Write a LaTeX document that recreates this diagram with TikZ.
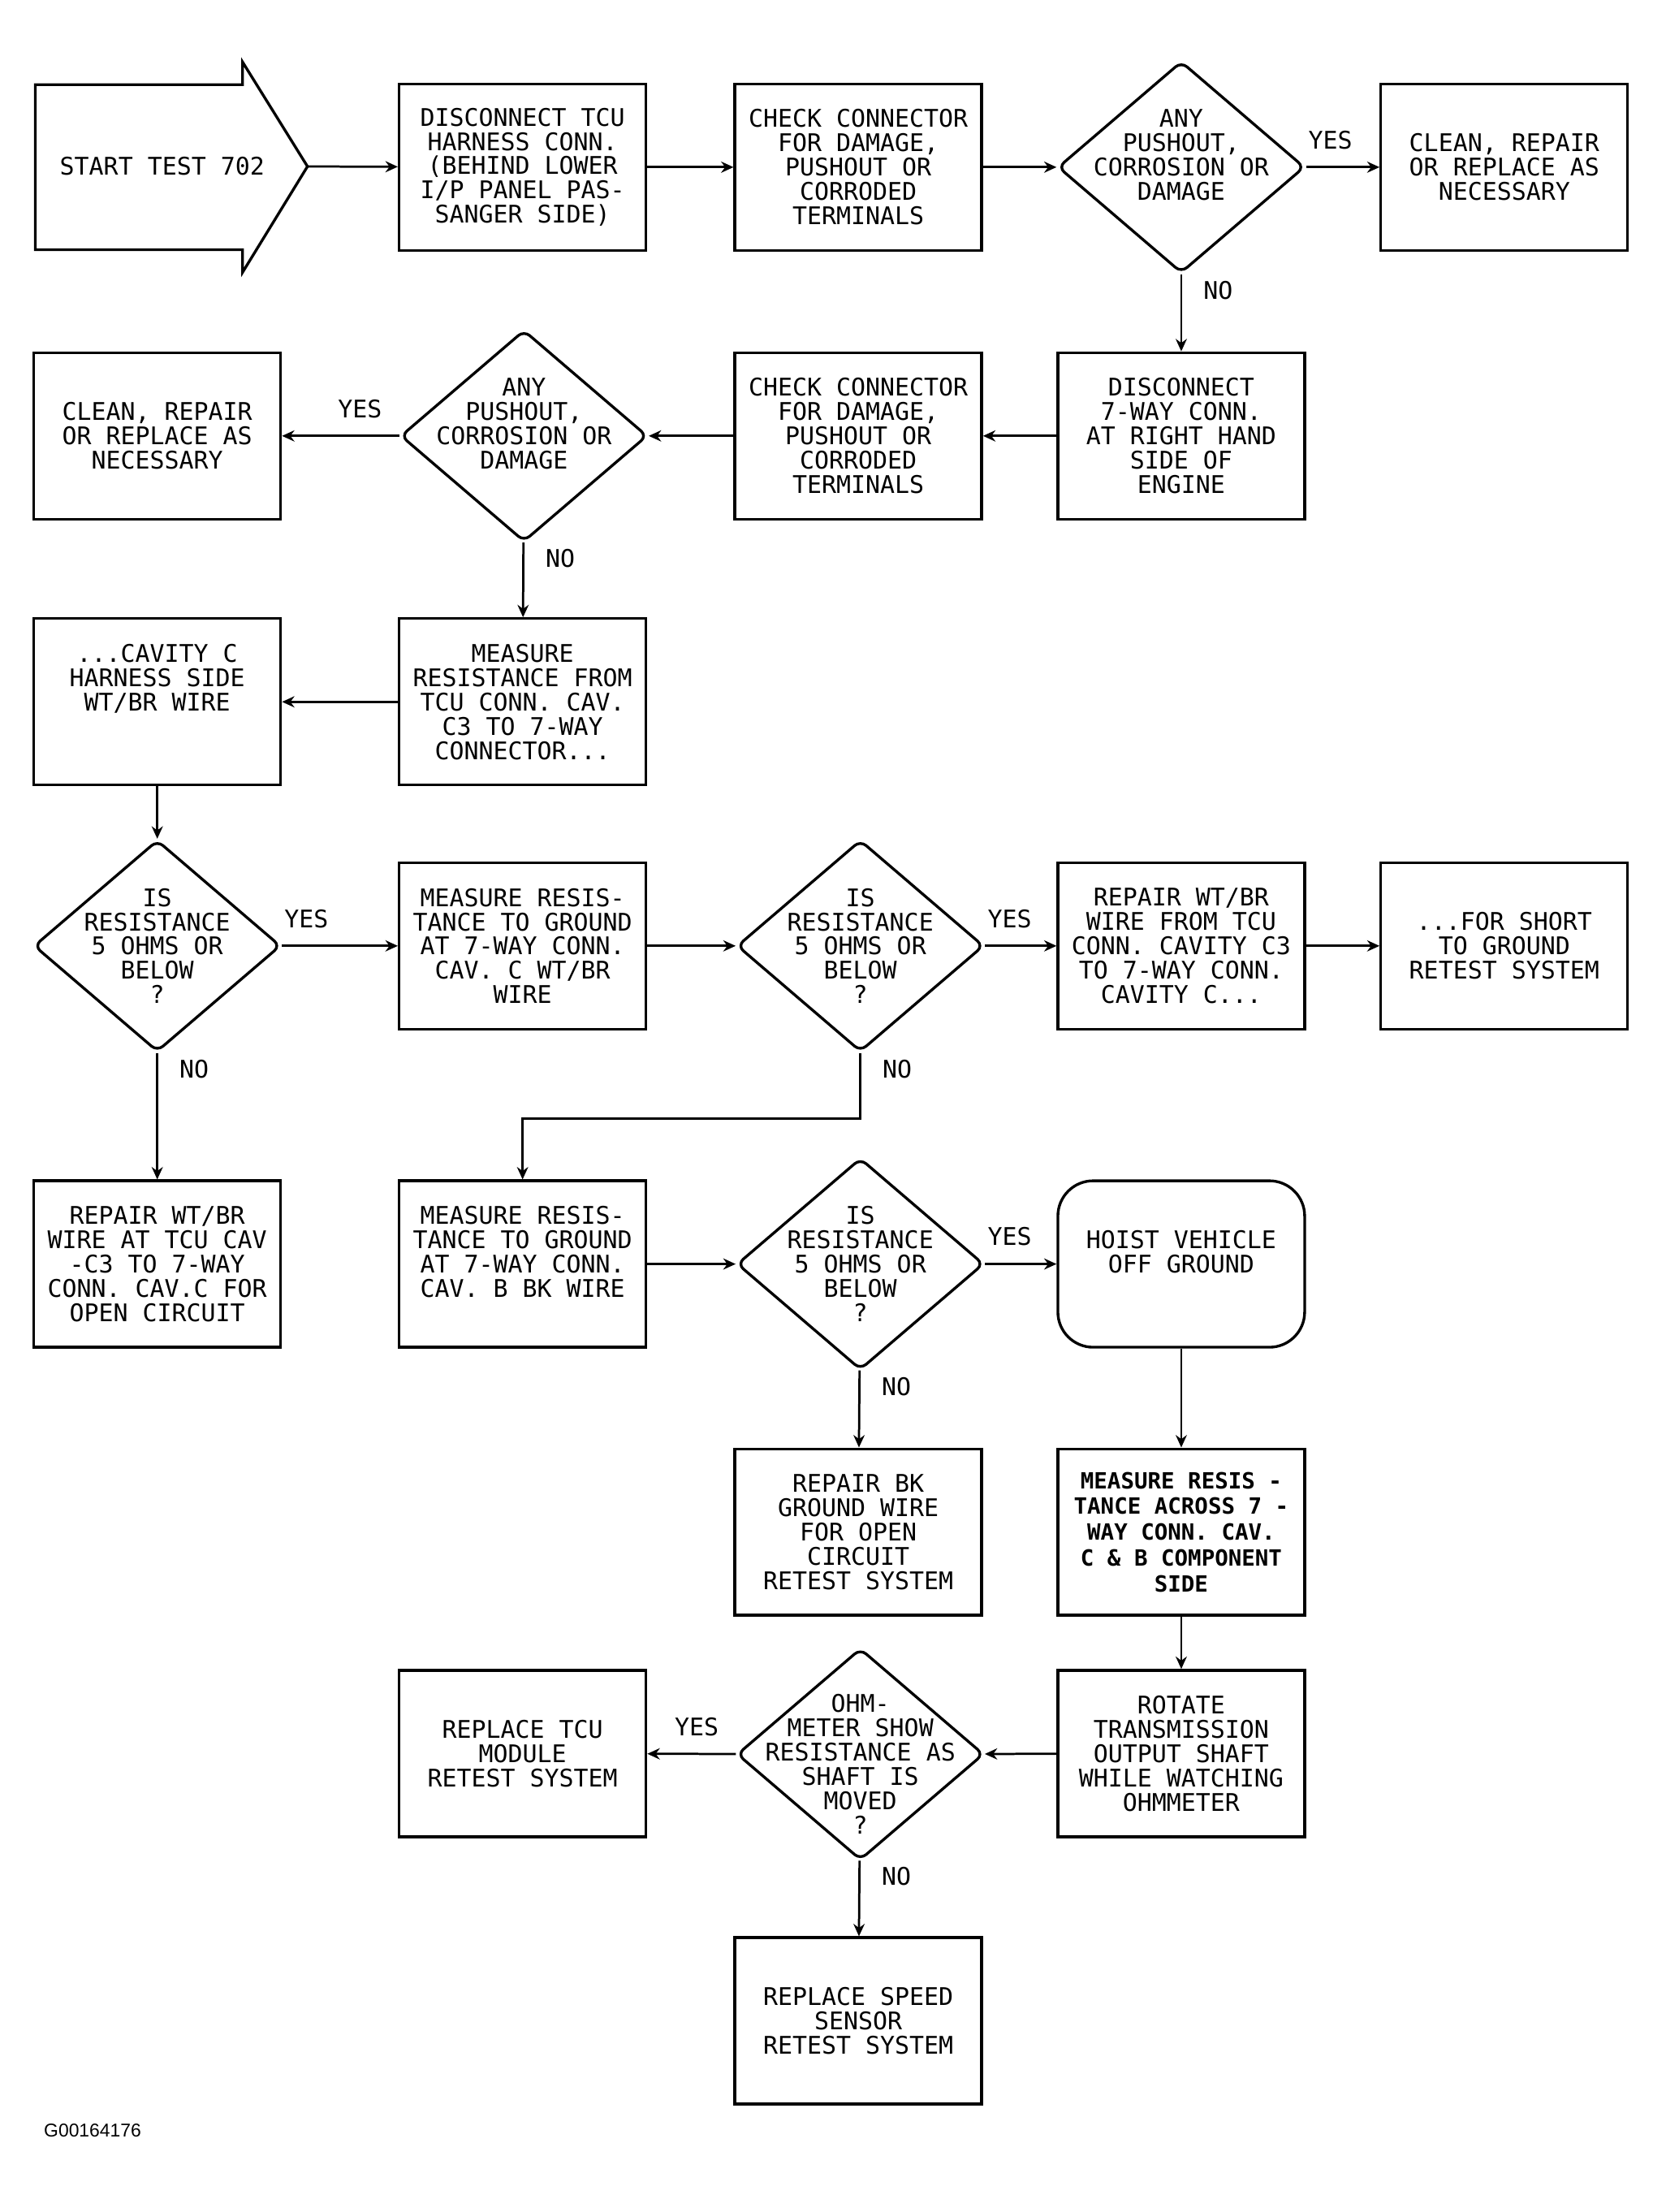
\documentclass[tikz,border=0pt]{standalone}
\usepackage{fontspec}
\setmainfont{DejaVu Sans Mono}
\newfontfamily\idfont{Liberation Sans}
\usetikzlibrary{shapes.geometric,arrows.meta}

\begin{document}
\begin{tikzpicture}
  [x=0.02cm,y=-0.02cm,font=\fontsize{9.8}{9.8}\selectfont,
   box/.style={draw,line width=1.1pt,minimum width=3.5cm,minimum height=2.36cm,align=center,inner sep=0pt},
   dec/.style={draw,diamond,line width=1.1pt,minimum width=3.5cm,minimum height=3cm,inner sep=0pt,rounded corners=3pt},
   txt/.style={align=center,inner sep=0pt},
   link/.style={line width=0.9pt,-{Stealth[length=5pt,width=4.5pt]}},
   yesR/.style={pos=0,anchor=south west,inner sep=0pt,xshift=0.02cm,yshift=0.24cm},
   yesL/.style={pos=0,anchor=south east,inner sep=0pt,xshift=-0.23cm,yshift=0.24cm},
   noR/.style={pos=0,anchor=north west,inner sep=0pt,xshift=0.3cm,yshift=-0.08cm}]
  \useasboundingbox (0,0) rectangle (1190,1568);

  % start arrow
  \draw[line width=1.1pt] (25,60) -- (172,60) -- (172,44) -- (218,118) -- (172,193) -- (172,177) -- (25,177) -- cycle;
  \node (start) at (115,118) {START TEST 702};
  \coordinate (starttip) at (218,118);

  % row 1
  \node[box] (discTCU) at (370.5,118.5) {DISCONNECT TCU\\HARNESS CONN.\\(BEHIND LOWER\\I/P PANEL PAS-\\SANGER SIDE)};
  \node[box] (checkA) at (608.5,118.5) {CHECK CONNECTOR\\FOR DAMAGE,\\PUSHOUT OR\\CORRODED\\TERMINALS};
  \node[dec,label={[txt,yshift=0.17cm]center:{ANY\\PUSHOUT,\\CORROSION OR\\DAMAGE}}] (anyA) at (837.5,118.5) {};
  \node[box] (cleanA) at (1066.5,118.5) {CLEAN, REPAIR\\OR REPLACE AS\\NECESSARY};

  % row 2
  \node[box] (disc7) at (837.5,309) {DISCONNECT\\7-WAY CONN.\\AT RIGHT HAND\\SIDE OF\\ENGINE};
  \node[box] (checkB) at (608.5,309) {CHECK CONNECTOR\\FOR DAMAGE,\\PUSHOUT OR\\CORRODED\\TERMINALS};
  \node[dec,label={[txt,yshift=0.17cm]center:{ANY\\PUSHOUT,\\CORROSION OR\\DAMAGE}}] (anyB) at (371.5,309) {};
  \node[box] (cleanB) at (111.5,309) {CLEAN, REPAIR\\OR REPLACE AS\\NECESSARY};

  % row 3
  \node[box] (measFrom) at (370.5,497.5) {MEASURE\\RESISTANCE FROM\\TCU CONN. CAV.\\C3 TO 7-WAY\\CONNECTOR...};
  \node[box] (cavC) at (111.5,497.5) {...CAVITY C\\HARNESS SIDE\\WT/BR WIRE\\\mbox{}\\\mbox{}};

  % row 4
  \node[dec,label={[txt]center:{IS\\RESISTANCE\\5 OHMS OR\\BELOW\\?}}] (isA) at (111.5,670.5) {};
  \node[box] (measC) at (370.5,670.5) {MEASURE RESIS-\\TANCE TO GROUND\\AT 7-WAY CONN.\\CAV. C WT/BR\\WIRE};
  \node[dec,label={[txt]center:{IS\\RESISTANCE\\5 OHMS OR\\BELOW\\?}}] (isB) at (610,670.5) {};
  \node[box] (repFrom) at (837.5,670.5) {REPAIR WT/BR\\WIRE FROM TCU\\CONN. CAVITY C3\\TO 7-WAY CONN.\\CAVITY C...};
  \node[box] (shortGnd) at (1066.5,670.5) {...FOR SHORT\\TO GROUND\\RETEST SYSTEM};

  % row 5
  \node[box] (repOpen) at (111.5,896) {REPAIR WT/BR\\WIRE AT TCU CAV\\-C3 TO 7-WAY\\CONN. CAV.C FOR\\OPEN CIRCUIT};
  \node[box] (measB) at (370.5,896) {MEASURE RESIS-\\TANCE TO GROUND\\AT 7-WAY CONN.\\CAV. B BK WIRE\\\mbox{}};
  \node[dec,label={[txt]center:{IS\\RESISTANCE\\5 OHMS OR\\BELOW\\?}}] (isC) at (610,896) {};
  \node[box,rounded corners=0.5cm] (hoist) at (837.5,896) {HOIST VEHICLE\\OFF GROUND\\\mbox{}};

  % row 6
  \node[box] (repBK) at (608.5,1086) {REPAIR BK\\GROUND WIRE\\FOR OPEN\\CIRCUIT\\RETEST SYSTEM};
  \node[box,font=\bfseries\fontsize{9}{10.4}\selectfont] (measAcross) at (837.5,1086) {MEASURE RESIS -\\TANCE ACROSS 7 -\\WAY CONN. CAV.\\C \& B COMPONENT\\SIDE};

  % row 7 and 8
  \node[box] (rotate) at (837.5,1243) {ROTATE\\TRANSMISSION\\OUTPUT SHAFT\\WHILE WATCHING\\OHMMETER};
  \node[dec,label={[txt,yshift=-0.14cm]center:{OHM-\\METER SHOW\\RESISTANCE AS\\SHAFT IS\\MOVED\\?}}] (ohm) at (610,1243.5) {};
  \node[box] (tcu) at (370.5,1243) {REPLACE TCU\\MODULE\\RETEST SYSTEM};
  \node[box] (speed) at (608.5,1432.5) {REPLACE SPEED\\SENSOR\\RETEST SYSTEM};

  \node[font=\idfont\fontsize{7.5}{9}\selectfont,anchor=west] (figid) at (25,1510) {G00164176};

  \foreach \from/\to in {starttip/discTCU,discTCU/checkA,checkA/anyA,disc7/checkB,checkB/anyB,measFrom/cavC,cavC/isA,measC/isB,repFrom/shortGnd,measB/isC,hoist/measAcross,measAcross/rotate,rotate/ohm}
    \draw[link] (\from) -- (\to);

  \draw[link] (anyA) -- node[yesR]{YES} (cleanA);
  \draw[link] (anyA) -- node[noR]{NO} (disc7);
  \draw[link] (anyB) -- node[yesL]{YES} (cleanB);
  \draw[link] (anyB) -- node[noR]{NO} (measFrom);
  \draw[link] (isA) -- node[yesR]{YES} (measC);
  \draw[link] (isA) -- node[noR]{NO} (repOpen);
  \draw[link] (isB) -- node[yesR]{YES} (repFrom);
  \draw[link] (isB.south) -- node[noR]{NO} ++(0,46.5) -| (measB);
  \draw[link] (isC) -- node[yesR]{YES} (hoist);
  \draw[link] (isC) -- node[noR]{NO} (repBK);
  \draw[link] (ohm) -- node[yesL]{YES} (tcu);
  \draw[link] (ohm) -- node[noR]{NO} (speed);

\end{tikzpicture}
\end{document}
